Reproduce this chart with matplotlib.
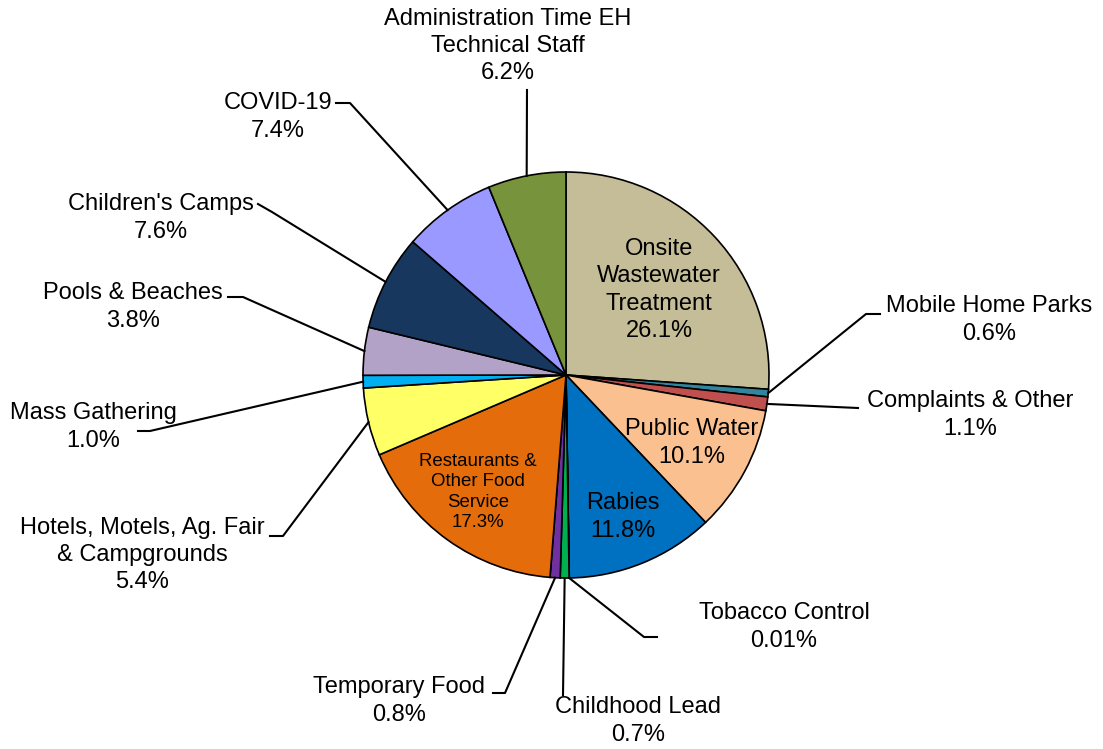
import numpy as np
import matplotlib.pyplot as plt

plt.rcParams["font.family"] = ["Liberation Sans", "DejaVu Sans"]

categories = [
    "Onsite\nWastewater\nTreatment", "Mobile Home Parks", "Complaints & Other",
    "Public Water", "Rabies", "Tobacco Control", "Childhood Lead",
    "Temporary Food", "Restaurants &\nOther Food\nService",
    "Hotels, Motels, Ag. Fair\n& Campgrounds", "Mass Gathering",
    "Pools & Beaches", "Children's Camps", "COVID-19",
    "Administration Time EH\nTechnical Staff",
]
values = [26.1, 0.6, 1.1, 10.1, 11.8, 0.01, 0.7, 0.8, 17.3, 5.4, 1.0, 3.8, 7.6, 7.4, 6.2]
pct_labels = ["26.1%", "0.6%", "1.1%", "10.1%", "11.8%", "0.01%", "0.7%", "0.8%",
              "17.3%", "5.4%", "1.0%", "3.8%", "7.6%", "7.4%", "6.2%"]
colors = ["#C4BD97", "#31859C", "#C0504D", "#FAC090", "#0070C0", "#92D050",
          "#00B050", "#7030A0", "#E46C0A", "#FFFF66", "#00B0F0", "#B3A2C7",
          "#17375E", "#9999FF", "#77933C"]

W, H = 1103, 749
CX, CY, R = 566, 375, 203

# label layout in pixel coords (top-left origin): text centre, elbow, line end at text
inside = {
    0: ((659, 290), 17, 1.3),
    3: ((692, 443), 17, 1.3),
    4: ((623, 517), 17, 1.3),
    8: ((478, 492), 13.4, 1.25),
}
outside = {
    1: ((989, 320), [(866, 314), (880, 314)]),
    2: ((970, 415), [(858, 408)]),
    5: ((784, 627), [(644, 637), (657, 637)]),
    6: ((638, 721), [(563, 695)]),
    7: ((399, 701), [(505, 693), (493, 693)]),
    9: ((142, 555), [(283, 536), (270, 536)]),
    10: ((93, 427), [(150, 431), (138, 431)]),
    11: ((133, 307), [(243, 297), (228, 297)]),
    12: ((161, 218), [(272, 212), (258, 204)]),
    13: ((278, 117), [(350, 103), (336, 103)]),
    14: ((508, 46), [(527, 90)]),
}


def px(x, y):
    return x, H - y


fig = plt.figure(figsize=(W / 100, H / 100), dpi=100)
ax = fig.add_axes([0, 0, 1, 1])

ax.pie(values, colors=colors, startangle=90, counterclock=False,
       center=px(CX, CY), radius=R,
       wedgeprops=dict(edgecolor="black", linewidth=1.2))
ax.set_xlim(0, W)
ax.set_ylim(0, H)
ax.set_aspect("equal")
ax.axis("off")

total = sum(values)
cum = np.cumsum([0] + values[:-1])
for i, (name, pct) in enumerate(zip(categories, pct_labels)):
    if i in inside:
        (tx, ty), fs, ls = inside[i]
        ax.text(*px(tx, ty), f"{name}\n{pct}", ha="center", va="center",
                fontsize=fs, linespacing=ls)
        continue
    (tx, ty), pts = outside[i]
    theta = np.deg2rad(90 - 360 * (cum[i] + values[i] / 2) / total)
    sx = CX + R * np.cos(theta)
    sy = CY - R * np.sin(theta)
    xs = [sx] + [p[0] for p in pts]
    ys = [sy] + [p[1] for p in pts]
    ax.plot(xs, [H - y for y in ys], color="black", linewidth=1.5)
    ax.text(*px(tx, ty), f"{name}\n{pct}", ha="center", va="center",
            fontsize=17, linespacing=1.3)

fig.savefig("out.png", dpi=100)
